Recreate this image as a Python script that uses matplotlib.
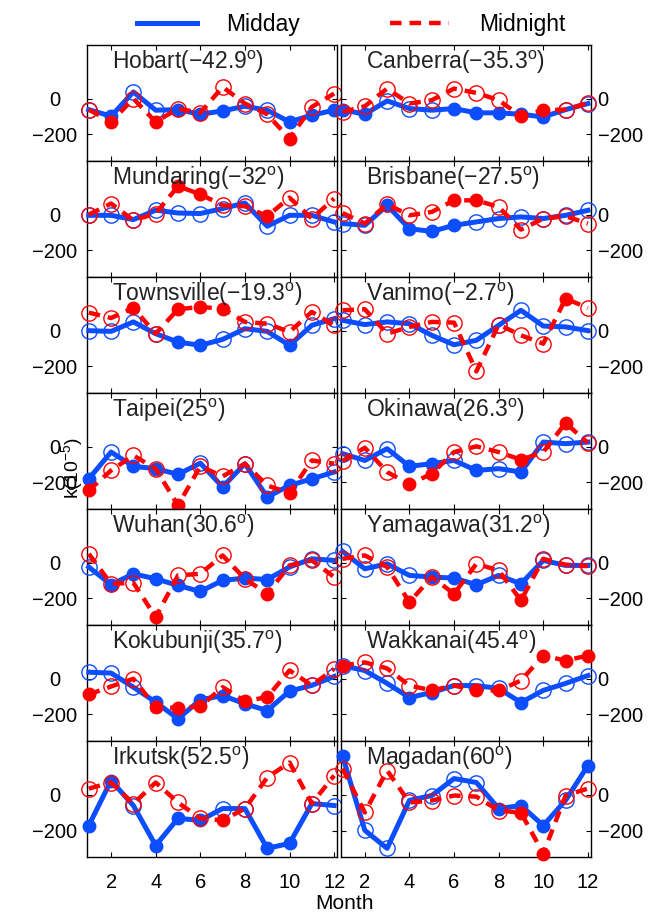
import matplotlib
matplotlib.use('Agg')
import matplotlib.pyplot as plt
from matplotlib.lines import Line2D

plt.rcParams['font.family'] = ['Liberation Sans', 'DejaVu Sans']
plt.rcParams['mathtext.default'] = 'regular'

months = list(range(1, 13))

# left column top->bottom, then right column top->bottom
left_names = ['Hobart(\u221242.9$^o$)', 'Mundaring(\u221232$^o$)', 'Townsville(\u221219.3$^o$)',
              'Taipei(25$^o$)', 'Wuhan(30.6$^o$)', 'Kokubunji(35.7$^o$)', 'Irkutsk(52.5$^o$)']
right_names = ['Canberra(\u221235.3$^o$)', 'Brisbane(\u221227.5$^o$)', 'Vanimo(\u22122.7$^o$)',
               'Okinawa(26.3$^o$)', 'Yamagawa(31.2$^o$)', 'Wakkanai(45.4$^o$)', 'Magadan(60$^o$)']

midday_left = [
    [-62, -99, 37, -65, -62, -88, -69, -43, -65, -131, -93, -65],
    [-4, -4, -28, 25, 9, 6, 34, 65, -65, -4, -4, -41],
    [0, -4, 49, -17, -64, -82, -49, 11, -4, -82, 30, 67],
    [-180, -30, -110, -123, -155, -92, -226, -95, -282, -217, -180, -142],
    [-24, -123, -62, -90, -127, -161, -99, -86, -94, -24, 22, 13],
    [37, 32, -47, -131, -224, -118, -94, -140, -178, -69, -37, 13],
    [-172, 80, -60, -284, -132, -143, -77, -77, -300, -272, -49, -60],
]
midnight_left = [
    [-62, -131, 0, -131, -56, -80, 65, -28, -88, -224, -47, 28],
    [0, 62, -32, 6, 159, 114, 52, 47, -9, 95, -22, 90],
    [101, 71, 127, -17, 120, 133, 123, 49, 39, -7, 105, 30],
    [-245, -133, -49, -123, -329, -110, -166, -95, -217, -260, -77, -95],
    [50, -118, -112, -305, -71, -62, 41, -90, -174, -15, 13, -80],
    [-88, -43, 0, -159, -163, -155, -47, -125, -103, 47, -37, 56],
    [35, 69, -50, 69, -43, -132, -143, -77, 97, 181, -49, 108],
]
midday_right = [
    [-62, -88, -13, -56, -65, -56, -80, -80, -88, -103, -62, -28],
    [-50, -60, 52, -79, -94, -60, -41, -22, -13, -22, -4, 24],
    [58, 34, 49, 39, -26, -79, -54, 30, 114, 26, 21, 0],
    [-39, -77, -11, -110, -95, -77, -133, -123, -142, 26, 17, 26],
    [64, -34, -6, -71, -80, -86, -123, -71, -118, 13, -15, -15],
    [74, 46, -26, -105, -77, -38, -38, -54, -133, -65, -26, 18],
    [218, -199, -300, -31, -4, 91, 69, -77, -60, -172, -31, 164],
]
midnight_right = [
    [-75, -43, 56, -28, -9, 56, 32, -9, -99, -65, -62, -25],
    [9, -50, 58, -4, 15, 80, 80, 43, -84, -22, -9, -50],
    [114, 120, -17, 21, 49, 45, -228, 34, -26, -73, 180, 127],
    [-80, -6, -142, -211, -151, -30, 2, -30, -73, -30, 133, 21],
    [22, 41, -24, -221, -80, -174, -6, -43, -211, 22, -11, -19],
    [74, 92, 58, -38, -65, -38, -65, -65, -10, 130, 102, 130],
    [147, -99, 136, -43, -32, -4, -10, -88, -100, -329, -4, 35],
]
# 1 = filled marker, 0 = open marker
mid_fill_left = ['010011100111', '000000000000', '000011000100', '101110101110',
                 '011111111000', '000111111100', '110111001100']
night_fill_left = ['010100000100', '000011001000', '001011100000', '100010000100',
                   '000100001000', '100111011000', '000000100000']
mid_fill_right = ['110001111100', '001111000000', '000000000000', '000110101000',
                  '000011101000', '000110001000', '100000011101']
night_fill_right = ['000000001100', '000001100000', '000000000010', '000110001010',
                    '000101001000', '100010110111', '000000001100']

yticks = [-200, 0]
ytick_labels = ['\u2212200', '0']

BLUE = '#0b4dff'
RED = '#ff0000'
DASH = (0, (2.6, 1.8))

fig = plt.figure(figsize=(6.54, 9.13), dpi=100)


def draw(ax, mid, night, mfill, nfill):
    ax.plot(months, mid, color=BLUE, lw=3.6, clip_on=False, zorder=3)
    for m, v, f in zip(months, mid, mfill):
        if f == '1':
            ax.plot(m, v, 'o', ms=9, color=BLUE, clip_on=False, zorder=4)
        else:
            ax.plot(m, v, 'o', ms=11, mfc='none', mec=BLUE, mew=1.0, clip_on=False, zorder=4)
    ax.plot(months, night, color=RED, lw=3.2, ls=DASH, clip_on=False, zorder=5)
    for m, v, f in zip(months, night, nfill):
        if f == '1':
            ax.plot(m, v, 'o', ms=9, color=RED, clip_on=False, zorder=6)
        else:
            ax.plot(m, v, 'o', ms=11, mfc='none', mec=RED, mew=1.0, clip_on=False, zorder=6)


left_axes = []
for col in range(2):
    for r in range(7):
        left = 0.133 if col == 0 else 0.521
        ax = fig.add_axes([left, 0.9507 - 0.1271 * (r + 1), 0.382, 0.1271])
        if col == 0:
            draw(ax, midday_left[r], midnight_left[r], mid_fill_left[r], night_fill_left[r])
            name = left_names[r]
        else:
            draw(ax, midday_right[r], midnight_right[r], mid_fill_right[r], night_fill_right[r])
            name = right_names[r]
        ax.set_xlim(0.92, 12.12)
        ax.set_ylim(-350, 300)
        ax.set_xticks([2, 4, 6, 8, 10, 12])
        ax.tick_params(direction='in', length=3.5, width=0.8, top=True, right=True,
                       labelsize=14.5, labelbottom=(r == 6))
        ax.tick_params(axis='x', pad=11)
        if col == 0:
            ax.tick_params(axis='y', pad=23)
            ax.set_yticks(yticks, labels=ytick_labels, ha='center')
            left_axes.append(ax)
        else:
            ax.set_yticks(yticks, labels=ytick_labels)
            ax.tick_params(axis='y', labelleft=False, labelright=True, pad=5)
        for s in ax.spines.values():
            s.set_linewidth(1.0)
        ax.text(0.1, 0.85, name, transform=ax.transAxes, fontsize=16.5,
                va='center', ha='left', color='#222222', zorder=10)

fig.text(0.527, 0.010, 'Month', ha='center', va='center', fontsize=15)
fig.text(0.110, 0.487, 'k(10$^{-5}$)', rotation=90, ha='center', va='center', fontsize=14)

handles = [Line2D([], [], color=BLUE, lw=3.6),
           Line2D([], [], color=RED, lw=3.2, ls=DASH)]
fig.legend(handles, ['Midday', 'Midnight'], loc='upper center', bbox_to_anchor=(0.537, 1.008),
           ncol=2, frameon=False, fontsize=16.5, handlelength=2.6, handletextpad=1.3,
           columnspacing=3.9)

fig.canvas.draw()
for ax in left_axes:
    for lab in ax.get_yticklabels():
        lab.set_ha('center')

fig.savefig('out.png', dpi=100)
